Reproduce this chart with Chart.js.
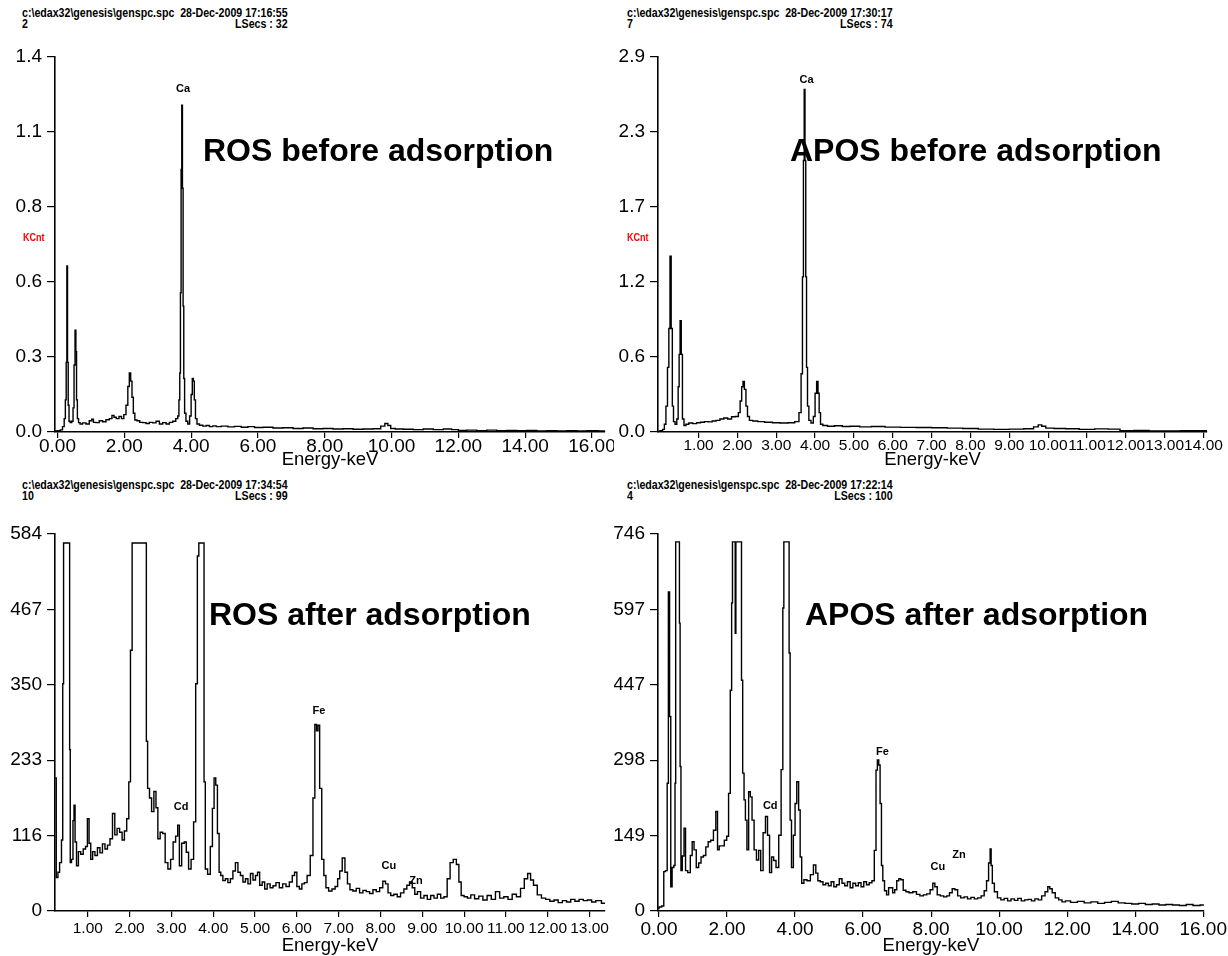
<!doctype html>
<html>
<head>
<meta charset="utf-8">
<title>EDS spectra - ROS / APOS before and after adsorption</title>
<script src="https://cdn.jsdelivr.net/npm/chart.js@4.4.1/dist/chart.umd.min.js"></script>
<style>
  body { margin: 0; background: #fff; }
  #page { position: relative; width: 1228px; height: 956px; overflow: hidden; }
  canvas { position: absolute; }
  .hdr { position: absolute; font: bold 12px "Liberation Sans", Arial, sans-serif; line-height: 11px; color: #000; white-space: pre; transform: scaleX(0.885); transform-origin: 0 0; }
  .hdr .row { display: flex; justify-content: space-between; }
  .title { position: absolute; font: bold 32px "Liberation Sans", Arial, sans-serif; line-height: 32px; white-space: nowrap; color: #000; }
  .kcnt { position: absolute; font: bold 10px "Liberation Sans", Arial, sans-serif; color: #f00; transform: scaleX(0.9); transform-origin: 0 0; }
</style>
</head>
<body>
<div id="page">
  <div class="hdr" style="left:22px;top:8px"><div>c:\edax32\genesis\genspc.spc  28-Dec-2009 17:16:55</div><div class="row"><span>2</span><span>LSecs : 32</span></div></div>
  <div class="hdr" style="left:627px;top:8px"><div>c:\edax32\genesis\genspc.spc  28-Dec-2009 17:30:17</div><div class="row"><span>7</span><span>LSecs : 74</span></div></div>
  <div class="hdr" style="left:22px;top:480px"><div>c:\edax32\genesis\genspc.spc  28-Dec-2009 17:34:54</div><div class="row"><span>10</span><span>LSecs : 99</span></div></div>
  <div class="hdr" style="left:627px;top:480px"><div>c:\edax32\genesis\genspc.spc  28-Dec-2009 17:22:14</div><div class="row"><span>4</span><span>LSecs : 100</span></div></div>

  <canvas id="rosBefore" width="614" height="430" style="left:0;top:40px"></canvas>
  <canvas id="aposBefore" width="614" height="430" style="left:614px;top:40px"></canvas>
  <canvas id="rosAfter" width="614" height="440" style="left:0;top:516px"></canvas>
  <canvas id="aposAfter" width="614" height="440" style="left:614px;top:516px"></canvas>

  <div class="kcnt" style="left:23px;top:232px">KCnt</div>
  <div class="kcnt" style="left:627px;top:232px">KCnt</div>

  <div class="title" style="left:203px;top:134px">ROS before adsorption</div>
  <div class="title" style="left:790px;top:134px">APOS before adsorption</div>
  <div class="title" style="left:209px;top:598px">ROS after adsorption</div>
  <div class="title" style="left:805px;top:598px">APOS after adsorption</div>
</div>
<script>
// spectra as [energy keV, counts] pairs
const rosBefore = [
  [-0.07,0.004],[0.05,0.005],[0.12,0.008],[0.18,0.02],[0.22,0.05],[0.25,0.12],[0.27,0.26],[0.29,0.62],[0.31,0.26],[0.33,0.10],
  [0.36,0.04],[0.40,0.035],[0.45,0.04],[0.48,0.09],[0.51,0.25],[0.54,0.38],[0.56,0.30],[0.58,0.12],[0.61,0.05],[0.65,0.035],
  [0.70,0.03],[0.80,0.034],[0.90,0.03],[1.00,0.042],[1.05,0.048],[1.10,0.036],[1.20,0.035],[1.30,0.042],[1.40,0.038],[1.50,0.046],
  [1.60,0.05],[1.66,0.062],[1.72,0.055],[1.80,0.05],[1.88,0.058],[1.95,0.05],[2.02,0.065],[2.08,0.10],[2.13,0.17],[2.17,0.22],
  [2.21,0.19],[2.25,0.13],[2.29,0.07],[2.34,0.045],[2.42,0.042],[2.50,0.036],[2.60,0.035],[2.70,0.032],[2.80,0.036],[2.90,0.034],
  [3.00,0.04],[3.10,0.03],[3.20,0.035],[3.30,0.03],[3.40,0.036],[3.50,0.04],[3.58,0.05],[3.62,0.06],[3.65,0.12],[3.67,0.22],
  [3.69,0.52],[3.71,0.98],[3.73,1.22],[3.75,0.91],[3.77,0.47],[3.79,0.2],[3.82,0.07],[3.87,0.04],[3.93,0.03],[3.98,0.06],
  [4.02,0.14],[4.05,0.2],[4.08,0.19],[4.11,0.12],[4.15,0.05],[4.20,0.03],[4.30,0.025],[4.40,0.022],[4.50,0.024],[4.60,0.02],
  [4.70,0.023],[4.80,0.02],[5.00,0.022],[5.20,0.019],[5.40,0.021],[5.60,0.018],[5.80,0.02],[6.00,0.017],[6.30,0.018],[6.60,0.015],
  [6.90,0.016],[7.20,0.013],[7.50,0.015],[7.80,0.012],[8.10,0.013],[8.40,0.011],[8.70,0.012],[9.00,0.01],[9.30,0.011],[9.60,0.012],
  [9.75,0.022],[9.85,0.032],[9.93,0.024],[10.02,0.013],[10.20,0.011],[10.50,0.01],[10.80,0.009],[11.10,0.011],[11.40,0.009],[11.70,0.011],
  [11.90,0.009],[12.10,0.006],[12.40,0.007],[12.70,0.005],[13.00,0.007],[13.30,0.005],[13.60,0.006],[13.90,0.005],[14.20,0.006],[14.50,0.004],
  [14.80,0.005],[15.10,0.004],[15.40,0.005],[15.70,0.004],[16.00,0.005],[16.39,0.004]
];
const aposBefore = [
  [-0.04,0.005],[0.05,0.01],[0.10,0.02],[0.14,0.06],[0.18,0.2],[0.22,0.5],[0.25,0.8],[0.28,1.36],[0.31,0.8],[0.34,0.2],
  [0.37,0.08],[0.42,0.06],[0.46,0.1],[0.49,0.35],[0.51,0.6],[0.54,0.86],[0.57,0.6],[0.60,0.1],[0.65,0.05],[0.70,0.06],
  [0.80,0.07],[0.90,0.065],[1.00,0.072],[1.10,0.075],[1.20,0.08],[1.30,0.078],[1.40,0.085],[1.50,0.09],[1.60,0.1],[1.70,0.108],
  [1.80,0.1],[1.90,0.118],[2.00,0.12],[2.05,0.15],[2.09,0.24],[2.13,0.35],[2.16,0.39],[2.20,0.33],[2.24,0.2],[2.28,0.12],
  [2.34,0.09],[2.45,0.085],[2.60,0.08],[2.80,0.075],[3.00,0.072],[3.20,0.07],[3.40,0.072],[3.55,0.08],[3.62,0.15],[3.66,0.45],
  [3.69,1.2],[3.71,2.1],[3.73,2.65],[3.75,2.1],[3.77,1.2],[3.79,0.5],[3.82,0.2],[3.86,0.09],[3.93,0.07],[3.98,0.12],
  [4.02,0.3],[4.06,0.39],[4.09,0.3],[4.12,0.15],[4.16,0.06],[4.24,0.05],[4.40,0.045],[4.60,0.048],[4.80,0.042],[5.00,0.045],
  [5.30,0.04],[5.60,0.042],[6.00,0.038],[6.40,0.036],[6.80,0.035],[7.20,0.033],[7.60,0.03],[8.00,0.027],[8.40,0.022],[8.80,0.02],
  [9.20,0.022],[9.55,0.025],[9.70,0.04],[9.79,0.055],[9.88,0.045],[10.00,0.03],[10.30,0.027],[10.60,0.025],[11.00,0.02],[11.40,0.024],
  [11.70,0.022],[12.00,0.01],[12.40,0.012],[12.80,0.009],[13.20,0.008],[13.60,0.01],[14.09,0.01]
];
const rosAfter = [
  [0.22,206],[0.27,52],[0.30,60],[0.35,75],[0.39,110],[0.41,352],[0.43,570],[0.56,570],[0.57,250],[0.59,75],
  [0.63,80],[0.66,140],[0.68,164],[0.71,107],[0.75,70],[0.80,92],[0.86,88],[0.92,96],[0.97,100],[1.01,143],
  [1.05,105],[1.09,80],[1.14,92],[1.20,86],[1.26,98],[1.32,90],[1.38,104],[1.44,96],[1.50,102],[1.56,112],
  [1.62,151],[1.67,118],[1.73,128],[1.79,122],[1.85,110],[1.90,124],[1.96,143],[2.00,200],[2.04,404],[2.08,570],
  [2.39,570],[2.41,263],[2.45,190],[2.50,175],[2.55,154],[2.61,185],[2.65,160],[2.70,112],[2.76,122],[2.82,120],
  [2.88,75],[2.95,65],[3.01,80],[3.07,107],[3.13,116],[3.17,133],[3.21,70],[3.28,105],[3.33,107],[3.38,91],
  [3.44,65],[3.50,80],[3.56,138],[3.60,352],[3.64,550],[3.67,570],[3.77,570],[3.79,200],[3.83,65],[3.90,57],
  [3.96,100],[4.00,159],[4.04,206],[4.08,195],[4.12,120],[4.16,60],[4.20,55],[4.26,47],[4.32,50],[4.38,44],
  [4.44,50],[4.50,62],[4.56,75],[4.62,60],[4.68,55],[4.74,45],[4.80,50],[4.86,42],[4.92,58],[4.98,48],
  [5.04,55],[5.08,60],[5.14,40],[5.20,45],[5.26,34],[5.32,42],[5.40,36],[5.46,39],[5.54,44],[5.62,36],
  [5.70,42],[5.78,38],[5.86,45],[5.92,55],[5.97,60],[6.03,38],[6.09,34],[6.15,42],[6.21,44],[6.28,55],
  [6.36,86],[6.41,175],[6.45,289],[6.49,279],[6.52,288],[6.57,190],[6.62,80],[6.67,55],[6.72,36],[6.80,31],
  [6.88,34],[6.95,38],[7.00,50],[7.05,62],[7.12,82],[7.18,60],[7.24,42],[7.30,33],[7.38,31],[7.46,35],
  [7.54,28],[7.62,32],[7.70,30],[7.78,27],[7.86,33],[7.94,30],[8.02,36],[8.09,46],[8.15,42],[8.21,28],
  [8.28,24],[8.36,26],[8.44,22],[8.52,28],[8.60,34],[8.66,40],[8.73,45],[8.79,36],[8.85,26],[8.92,30],
  [9.00,20],[9.08,24],[9.16,18],[9.24,24],[9.32,20],[9.40,26],[9.48,20],[9.56,22],[9.63,50],[9.70,75],
  [9.78,80],[9.85,72],[9.90,45],[9.96,24],[10.04,22],[10.12,20],[10.20,25],[10.30,19],[10.40,23],[10.50,17],
  [10.60,24],[10.70,18],[10.80,30],[10.90,20],[11.00,22],[11.10,18],[11.20,26],[11.30,22],[11.40,35],[11.48,50],
  [11.56,58],[11.62,48],[11.70,40],[11.80,25],[11.90,20],[12.00,18],[12.10,15],[12.20,17],[12.30,13],[12.40,16],
  [12.50,14],[12.60,18],[12.70,15],[12.80,18],[12.90,16],[13.00,17],[13.10,14],[13.20,16],[13.37,12]
];
const aposAfter = [
  [-0.03,5],[0.03,8],[0.12,10],[0.16,78],[0.22,80],[0.26,253],[0.29,632],[0.33,385],[0.36,48],[0.41,86],
  [0.46,90],[0.48,253],[0.50,731],[0.59,731],[0.61,570],[0.63,286],[0.66,80],[0.71,109],[0.76,164],[0.80,80],
  [0.89,76],[0.95,110],[1.00,137],[1.06,121],[1.13,86],[1.20,95],[1.27,107],[1.34,110],[1.41,127],[1.48,137],
  [1.56,140],[1.64,160],[1.70,197],[1.74,121],[1.80,129],[1.88,129],[1.96,140],[2.02,148],[2.07,233],[2.12,437],
  [2.15,610],[2.17,731],[2.23,731],[2.25,550],[2.27,731],[2.41,731],[2.44,457],[2.48,273],[2.52,220],[2.56,180],
  [2.61,121],[2.66,236],[2.71,226],[2.76,180],[2.83,121],[2.90,101],[2.96,120],[3.02,80],[3.10,155],[3.16,187],
  [3.22,150],[3.28,76],[3.34,107],[3.40,100],[3.48,86],[3.56,150],[3.62,280],[3.66,600],[3.68,731],[3.81,731],
  [3.84,511],[3.87,180],[3.92,86],[3.98,150],[4.02,213],[4.08,256],[4.13,200],[4.17,107],[4.22,55],[4.30,62],
  [4.40,60],[4.50,72],[4.58,91],[4.64,75],[4.70,60],[4.78,58],[4.86,52],[4.94,55],[5.02,50],[5.10,58],
  [5.18,48],[5.26,52],[5.34,64],[5.42,55],[5.50,50],[5.58,58],[5.66,46],[5.74,55],[5.82,50],[5.90,56],
  [5.98,48],[6.06,58],[6.14,52],[6.22,56],[6.30,60],[6.36,120],[6.40,279],[6.44,299],[6.48,289],[6.52,213],
  [6.56,90],[6.60,60],[6.66,40],[6.72,32],[6.78,46],[6.84,46],[6.90,36],[6.96,42],[7.02,60],[7.08,64],
  [7.14,62],[7.22,41],[7.30,38],[7.40,36],[7.52,38],[7.62,33],[7.72,30],[7.82,32],[7.92,34],[8.02,42],
  [8.08,55],[8.14,48],[8.22,32],[8.32,30],[8.42,28],[8.50,30],[8.58,36],[8.66,44],[8.74,42],[8.82,30],
  [8.92,26],[9.02,28],[9.12,24],[9.22,27],[9.32,24],[9.42,26],[9.52,30],[9.60,40],[9.66,60],[9.72,95],
  [9.75,123],[9.78,90],[9.82,55],[9.90,38],[10.00,26],[10.10,22],[10.20,25],[10.30,20],[10.40,24],[10.50,21],
  [10.60,25],[10.70,20],[10.80,22],[10.90,23],[11.00,20],[11.10,24],[11.20,22],[11.30,30],[11.40,38],[11.46,48],
  [11.52,44],[11.60,36],[11.70,26],[11.80,22],[11.90,18],[12.00,20],[12.20,17],[12.40,19],[12.60,16],[12.80,18],
  [13.00,15],[13.20,17],[13.40,19],[13.60,16],[13.80,15],[14.00,14],[14.20,15],[14.40,13],[14.60,14],[14.80,12],
  [15.00,13],[15.20,12],[15.40,11],[15.60,13],[15.80,11],[16.02,12]
];

// axis tick labels
const rosBeforeYLabels = ['0.0', '0.3', '0.6', '0.8', '1.1', '1.4'];
const aposBeforeYLabels = ['0.0', '0.6', '1.2', '1.7', '2.3', '2.9'];
const rosAfterYLabels = ['0', '116', '233', '350', '467', '584'];
const aposAfterYLabels = ['0', '149', '298', '447', '597', '746'];
const rosBeforeXTicks = [0, 2, 4, 6, 8, 10, 12, 14, 16];
const aposBeforeXTicks = [1, 2, 3, 4, 5, 6, 7, 8, 9, 10, 11, 12, 13, 14];
const rosAfterXTicks = [1, 2, 3, 4, 5, 6, 7, 8, 9, 10, 11, 12, 13];
const aposAfterXTicks = [0, 2, 4, 6, 8, 10, 12, 14, 16];

// element markers: [symbol, keV, height]
const rosBeforePeaks = [['Ca', 3.76, 1.28]];
const aposBeforePeaks = [['Ca', 3.78, 2.72]];
const rosAfterPeaks = [['Cd', 3.23, 161], ['Fe', 6.53, 310], ['Cu', 8.2, 70], ['Zn', 8.85, 46]];
const aposAfterPeaks = [['Cd', 3.27, 208], ['Fe', 6.57, 315], ['Cu', 8.2, 87], ['Zn', 8.82, 111]];

const fontFamily = '"Liberation Sans", Arial, sans-serif';

// element symbols above peaks plus the energy axis caption
const spectrumText = {
  id: 'spectrumText',
  afterDraw(chart, args, opts) {
    const { ctx, chartArea, scales: { x, y } } = chart;
    ctx.save();
    ctx.fillStyle = '#000';
    ctx.textAlign = 'center';
    ctx.textBaseline = 'middle';
    ctx.font = 'bold 11px ' + fontFamily;
    opts.peaks.forEach(([sym, e, h]) => ctx.fillText(sym, x.getPixelForValue(e), y.getPixelForValue(h)));
    ctx.font = '18.5px ' + fontFamily;
    ctx.fillText('Energy-keV', (chartArea.left + chartArea.right) / 2, chartArea.bottom + opts.titleOffset);
    ctx.restore();
  }
};

function spectrum(id, points, o) {
  return new Chart(document.getElementById(id), {
    type: 'line',
    data: {
      datasets: [{
        data: points.map(p => ({ x: p[0], y: p[1] })),
        borderColor: '#000',
        borderWidth: 1.4,
        pointRadius: 0,
        stepped: 'middle',
        fill: false
      }]
    },
    options: {
      responsive: false,
      animation: false,
      events: [],
      layout: { padding: { top: o.padTop, right: o.padRight, left: 0, bottom: 0 } },
      plugins: {
        legend: { display: false },
        tooltip: { enabled: false },
        spectrumText: { peaks: o.peaks, titleOffset: o.titleOffset }
      },
      scales: {
        x: {
          type: 'linear',
          min: o.xMin,
          max: o.xMax,
          afterBuildTicks: s => { s.ticks = o.xTicks.map(v => ({ value: v })); },
          afterFit: s => { s.height = o.xHeight; },
          ticks: {
            autoSkip: false, maxRotation: 0, minRotation: 0, padding: o.xPad, color: '#000',
            font: { family: fontFamily, size: o.xFont },
            callback: v => v.toFixed(2)
          },
          grid: { drawOnChartArea: false, tickLength: 6, color: '#000', lineWidth: 1.2 },
          border: { color: '#000', width: 1.6 }
        },
        y: {
          min: 0,
          max: o.yMax,
          afterBuildTicks: s => {
            s.ticks = o.yLabels.map((l, i) => ({ value: o.yMax * i / (o.yLabels.length - 1) }));
          },
          afterFit: s => { s.width = o.yWidth; },
          ticks: {
            autoSkip: false, padding: 5, color: '#000',
            font: { family: fontFamily, size: 19 },
            callback: (v, i) => o.yLabels[i]
          },
          grid: { drawOnChartArea: false, tickLength: 8, color: '#000', lineWidth: 1.2 },
          border: { color: '#000', width: 1.6 }
        }
      }
    },
    plugins: [spectrumText]
  });
}

spectrum('rosBefore', rosBefore, {
  xMin: -0.075, xMax: 16.39, xTicks: rosBeforeXTicks, xFont: 19, xPad: -3,
  yMax: 1.4, yLabels: rosBeforeYLabels, peaks: rosBeforePeaks,
  padTop: 17, padRight: 9, yWidth: 55, xHeight: 38, titleOffset: 28
});
spectrum('aposBefore', aposBefore, {
  xMin: -0.044, xMax: 14.09, xTicks: aposBeforeXTicks, xFont: 15.5, xPad: -2,
  yMax: 2.9, yLabels: aposBeforeYLabels, peaks: aposBeforePeaks,
  padTop: 17, padRight: 21, yWidth: 44, xHeight: 38, titleOffset: 28
});
spectrum('rosAfter', rosAfter, {
  xMin: 0.215, xMax: 13.37, xTicks: rosAfterXTicks, xFont: 15.5, xPad: 2,
  yMax: 584, yLabels: rosAfterYLabels, peaks: rosAfterPeaks,
  padTop: 18, padRight: 9, yWidth: 55, xHeight: 45, titleOffset: 35
});
spectrum('aposAfter', aposAfter, {
  xMin: -0.03, xMax: 16.02, xTicks: aposAfterXTicks, xFont: 19, xPad: 1,
  yMax: 746.5, yLabels: aposAfterYLabels, peaks: aposAfterPeaks,
  padTop: 18, padRight: 21, yWidth: 44, xHeight: 45, titleOffset: 35
});
</script>
</body>
</html>
